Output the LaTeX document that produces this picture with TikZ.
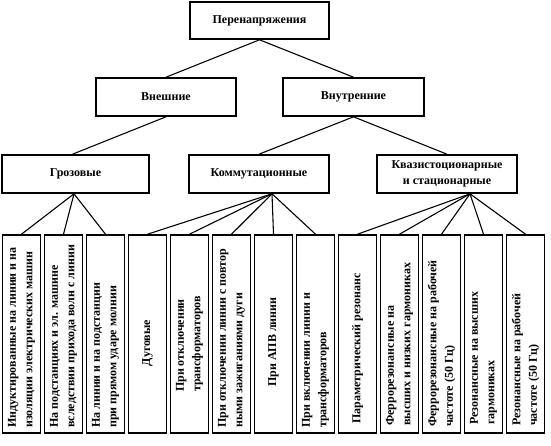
\documentclass[tikz,border=0pt]{standalone}
\usepackage{fontspec}
\setmainfont{Liberation Serif}
\usetikzlibrary{calc}
\begin{document}
\begin{tikzpicture}[x=1pt,y=-1pt,
  box/.style={draw, line width=1.6pt, inner sep=0pt},
  lbl/.style={font=\fontsize{12}{16}\selectfont\bfseries, align=center},
  bbox/.style={draw, line width=1.6pt, inner sep=0pt, minimum width=38pt, minimum height=198pt},
  vtxt/.style={font=\fontsize{12}{16.5}\selectfont\bfseries, align=left, rotate=90, inner sep=1pt},
  conn/.style={line width=1.1pt}]
\useasboundingbox (0,0) rectangle (551,445);

% upper levels
\node[box, lbl, minimum width=139pt, minimum height=37pt] (p) at (259.5,20.5) {Перенапряжения};
\node[box, lbl, minimum width=140pt, minimum height=38pt] (vn) at (166,97) {Внешние};
\node[box, lbl, minimum width=141pt, minimum height=38pt] (vt) at (353.5,97) {Внутренние};
\node[box, lbl, minimum width=147pt, minimum height=38pt] (g) at (75.5,174) {Грозовые};
\node[box, lbl, minimum width=140pt, minimum height=38pt] (k) at (259,174) {Коммутационные};
\node[box, lbl, minimum width=140pt, minimum height=38pt] (q) at (447,174) {Квазистоционарные\\и стационарные};

% bottom boxes
\foreach \i in {1,...,13} {
  \node[bbox] (b\i) at ({21.5+42*(\i-1)},334) {};
}

% bottom texts
\node[vtxt, anchor=west] (t1) at (b1.south |- 0,429) {Индуктированные на линии и на\\изоляции электрических машин};
\node[vtxt, anchor=west] (t2) at (b2.south |- 0,429) {На подстанциях и эл. машине\\вследствии прихода волн с линии};
\node[vtxt, anchor=west] (t3) at (b3.south |- 0,429) {На линии и на подстанции\\при прямом ударе молнии};
\node[vtxt] (t4) at (b4.center |- 0,343) {Дуговые};
\node[vtxt] (t5) at (b5.center |- 0,344) {При отключении\\трансформаторов};
\node[vtxt] (t6) at (b6.south |- 0,429) [anchor=west] {При отключении линии с повтор\\ными зажиганиями дуги};
\node[vtxt] (t7) at (b7.center |- 0,342) {При АПВ линии};
\node[vtxt, anchor=west] (t8) at (b8.south |- 0,429) {При включении линии и\\трансформаторов};
\node[vtxt, anchor=west] (t9) at (b9.south |- 0,425) {Параметрический резонанс};
\node[vtxt, anchor=west] (t10) at (b10.south |- 0,427) {Феррорезонансные на\\высших и низких гармониках};
\node[vtxt, anchor=west] (t11) at (b11.south |- 0,428) {Феррорезонансные на рабочей\\частоте (50 Гц)};
\node[vtxt, anchor=west] (t12) at (b12.south |- 0,426) {Резонансные на высших\\гармониках};
\node[vtxt, anchor=west] (t13) at (b13.south |- 0,427) {Резонансные на рабочей\\частоте (50 Гц)};

% connectors
\draw[conn] (p.south) -- (vn.north);
\draw[conn] (p.south) -- (vt.north);
\draw[conn] (vn.south) -- ($(g.north)+(-3,0)$);
\draw[conn] (vt.south) -- (k.north);
\draw[conn] (vt.south) -- (q.north);

\coordinate (gs) at ($(g.south)+(-1.5,0)$);
\coordinate (ks) at ($(k.south)+(13,0)$);
\coordinate (qs) at ($(q.south)+(23,0)$);
\foreach \i in {1,2,3} \draw[conn] (gs) -- (b\i.north);
\foreach \i in {4,...,8} \draw[conn] (ks) -- (b\i.north);
\foreach \i in {9,...,13} \draw[conn] (qs) -- (b\i.north);
\end{tikzpicture}
\end{document}
